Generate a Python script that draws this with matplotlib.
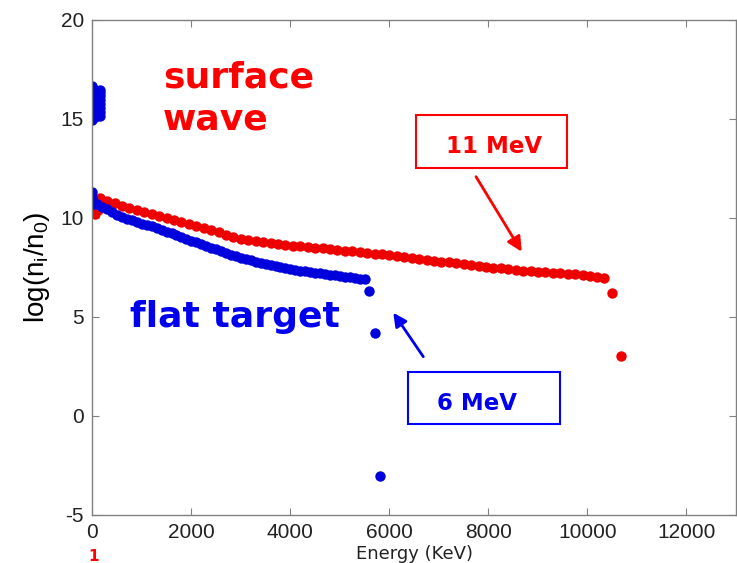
import matplotlib
matplotlib.use('Agg')
from matplotlib import pyplot as plt
from matplotlib.patches import Rectangle

plt.rcParams['axes.unicode_minus'] = False

# energy (keV) and log(ni/n0), surface-wave target (red)
red_e = [20, 40, 60, 90, 120,
         150, 300, 450, 600, 750, 900, 1050, 1200, 1350, 1500, 1650, 1800, 1950,
         2100, 2250, 2400, 2550, 2700, 2850, 3000, 3150, 3300, 3450, 3600, 3750,
         3900, 4050, 4200, 4350, 4500, 4650, 4800, 4950, 5100, 5250, 5400, 5550,
         5700, 5850, 6000, 6150, 6300, 6450, 6600, 6750, 6900, 7050, 7200, 7350,
         7500, 7650, 7800, 7950, 8100, 8250, 8400, 8550, 8700, 8850, 9000, 9150,
         9300, 9450, 9600, 9750, 9900, 10050, 10200, 10330, 10490, 10670]
red_y = [10.3, 10.55, 10.2, 10.6, 10.4,
         10.98, 10.85, 10.72, 10.6, 10.5, 10.4, 10.3, 10.2, 10.1, 10.0, 9.9, 9.8, 9.7,
         9.6, 9.49, 9.38, 9.27, 9.15, 9.05, 8.95, 8.88, 8.82, 8.76, 8.71, 8.66,
         8.62, 8.58, 8.55, 8.52, 8.48, 8.45, 8.41, 8.38, 8.34, 8.31, 8.27, 8.23,
         8.19, 8.15, 8.11, 8.07, 8.03, 7.98, 7.93, 7.88, 7.83, 7.79, 7.74, 7.7,
         7.65, 7.61, 7.56, 7.52, 7.48, 7.44, 7.4, 7.36, 7.33, 7.3, 7.27, 7.25,
         7.22, 7.2, 7.17, 7.14, 7.12, 7.08, 7.03, 6.97, 6.19, 3.04]

# flat target (blue)
blue_e = [0, 0, 60, 60, 60, 60, 60, 60, 60, 60, 150, 150, 150, 150, 150, 150, 150, 150,
          0, 0, 20, 40,
          100, 200, 300, 400, 500, 600, 700, 800, 900, 1000, 1100, 1200, 1300, 1400,
          1500, 1600, 1700, 1800, 1900, 2000, 2100, 2200, 2300, 2400, 2500, 2600,
          2700, 2800, 2900, 3000, 3100, 3200, 3300, 3400, 3500, 3600, 3700, 3800,
          3900, 4000, 4100, 4200, 4300, 4400, 4500, 4600, 4700, 4800, 4900, 5000,
          5100, 5200, 5300, 5400, 5500, 5590, 5700, 5820]
blue_y = [16.62, 14.93, 15.1, 15.3, 15.5, 15.7, 15.9, 16.1, 16.3, 16.45, 15.15, 15.35,
          15.55, 15.75, 15.95, 16.15, 16.3, 16.45,
          11.3, 11.05, 10.85, 10.7,
          10.7, 10.56, 10.42, 10.28, 10.16, 10.05, 9.95, 9.86, 9.77, 9.69, 9.62, 9.56,
          9.49, 9.4, 9.3, 9.21, 9.12, 9.03, 8.93, 8.84, 8.75, 8.66, 8.57, 8.48, 8.4,
          8.31, 8.22, 8.13, 8.05, 7.97, 7.91, 7.85, 7.79, 7.73, 7.67, 7.61, 7.56,
          7.51, 7.45, 7.4, 7.36, 7.33, 7.29, 7.26, 7.23, 7.19, 7.16, 7.13, 7.09,
          7.06, 7.03, 7.0, 6.97, 6.93, 6.89, 6.32, 4.2, -3.02]

xticks = [0, 2000, 4000, 6000, 8000, 10000, 12000]
yticks = [-5, 0, 5, 10, 15, 20]

W, H = 737, 563
fig = plt.figure(figsize=(W / 100, H / 100), dpi=100)
ax = fig.add_axes([92.3 / W, 48 / H, 643.7 / W, 495.5 / H])


def fp(x, y):
    # pixel position (from top-left) -> figure fraction
    return x / W, 1 - y / H


ax.plot(red_e, red_y, 'o', color='#ee0000', ms=7.5, mew=0)
ax.plot(blue_e, blue_y, 'o', color='#0000dd', ms=7.5, mew=0)

ax.set_xlim(0, 13000)
ax.set_ylim(-5, 20)
ax.set_xticks(xticks)
ax.set_yticks(yticks)
ax.tick_params(direction='in', length=5, top=True, right=True, color='#808080',
               labelsize=15, labelcolor='#222222', pad=6)
for s in ax.spines.values():
    s.set_color('#808080')
    s.set_linewidth(1.0)
for lab in ax.get_xticklabels() + ax.get_yticklabels():
    lab.set_family('Liberation Sans')

ax.set_ylabel(r'$\mathregular{log(n_i/n_0)}$', fontsize=20, family='Liberation Sans', labelpad=6)
ax.set_xlabel('Energy (KeV)', fontsize=13, labelpad=2, color='#222222')

fig.text(*fp(163, 87), 'surface', color='red', fontsize=26, fontweight='bold', va='baseline')
fig.text(*fp(163, 130), 'wave', color='red', fontsize=26, fontweight='bold', va='baseline')
fig.text(*fp(130, 327), 'flat target', color='#0000ee', fontsize=26, fontweight='bold',
         va='baseline')

# label boxes
fig.add_artist(Rectangle(fp(415.7, 167.7), 151.6 / W, 52.7 / H, transform=fig.transFigure,
                         fill=False, ec='red', lw=1.5))
fig.text(*fp(446, 153), '11 MeV', color='red', fontsize=16.5, fontweight='bold', va='baseline')
fig.add_artist(Rectangle(fp(407.7, 424.3), 152 / W, 52 / H, transform=fig.transFigure,
                         fill=False, ec='#0000ff', lw=1.5))
fig.text(*fp(437, 410), '6 MeV', color='#0000ee', fontsize=16.5, fontweight='bold',
         va='baseline')

# arrows
ax.annotate('', xy=(521.7, H - 251.7), xycoords='figure pixels',
            xytext=(476, H - 176.7), textcoords='figure pixels',
            arrowprops=dict(arrowstyle='-|>', color='red', lw=2, mutation_scale=22,
                            shrinkA=0, shrinkB=0))
ax.annotate('', xy=(393.3, H - 312.7), xycoords='figure pixels',
            xytext=(423.3, H - 356.7), textcoords='figure pixels',
            arrowprops=dict(arrowstyle='-|>', color='#0000ee', lw=2, mutation_scale=20,
                            shrinkA=0, shrinkB=0))

fig.text(*fp(88, 561), '1', color='red', fontsize=11, fontweight='bold', va='baseline')

fig.savefig('out.png', dpi=100)
